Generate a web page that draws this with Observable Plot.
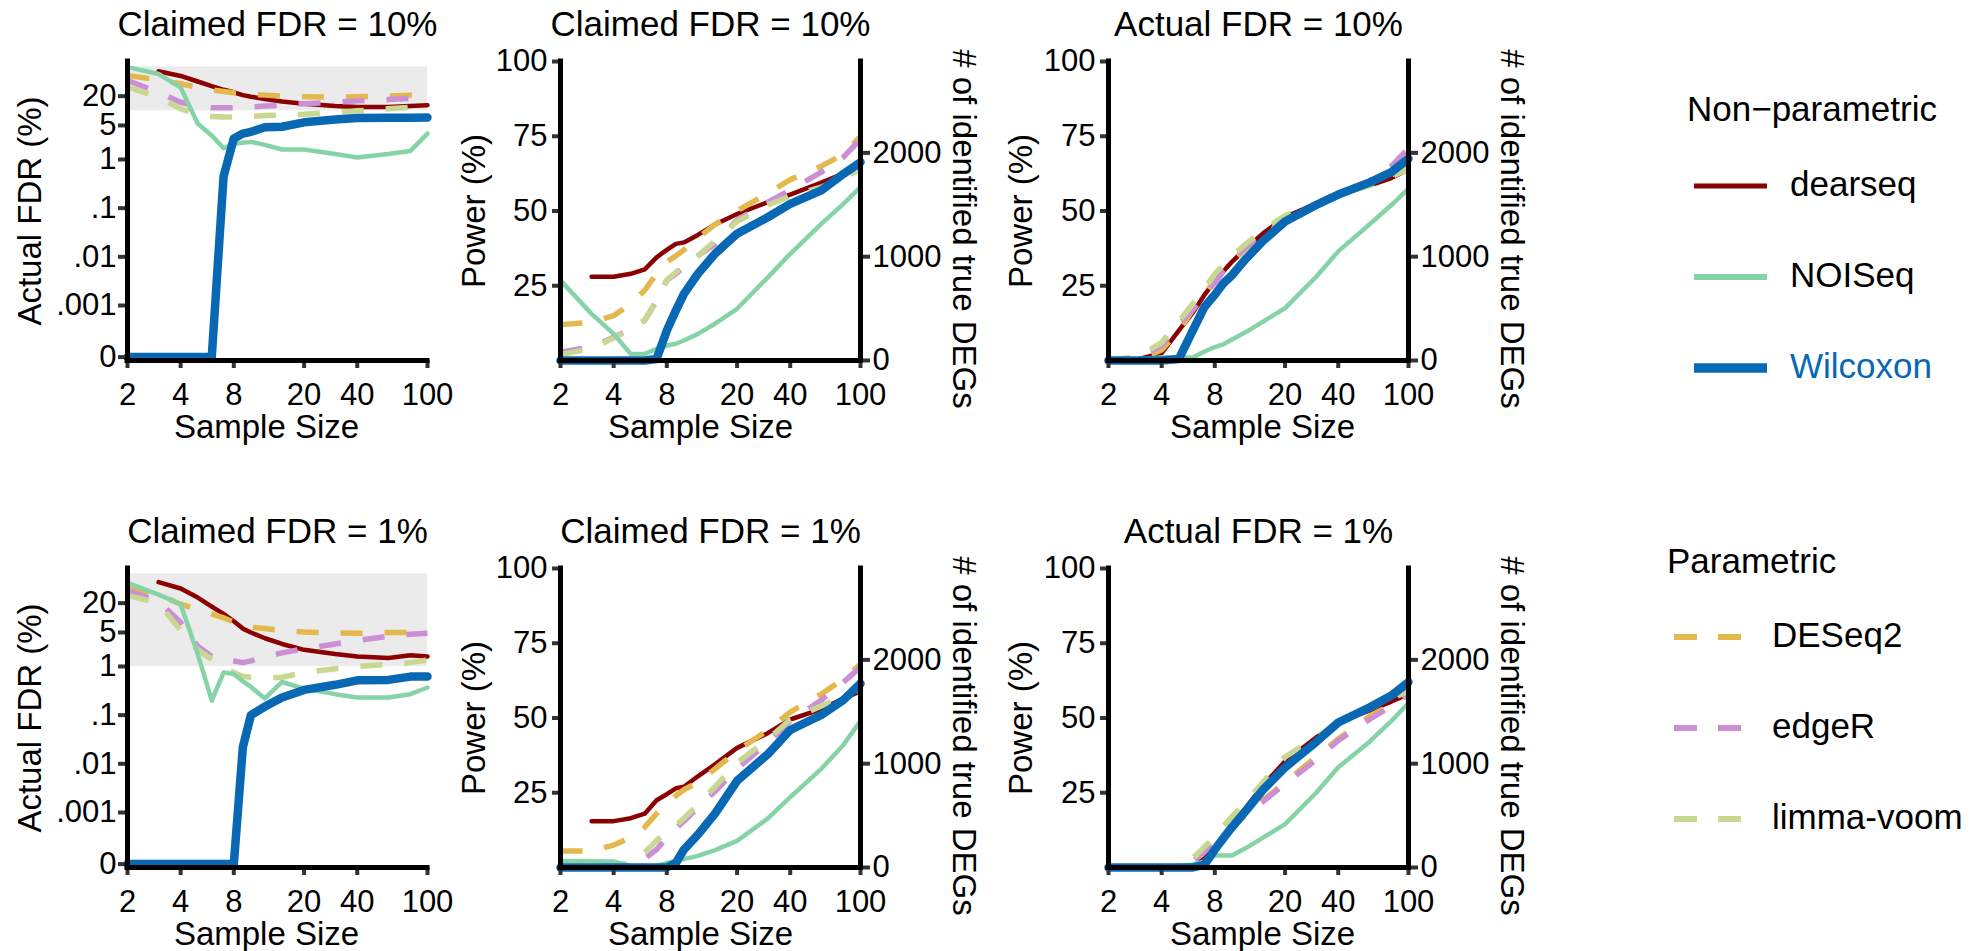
<!DOCTYPE html>
<html><head><meta charset="utf-8">
<script src="https://cdn.jsdelivr.net/npm/d3@7"></script>
<script src="https://cdn.jsdelivr.net/npm/@observablehq/plot@0.6"></script>
<style>
html,body{margin:0;padding:0;background:#fff;overflow:hidden;}
#root{position:relative;width:1988px;height:951px;overflow:hidden;font-family:"Liberation Sans",Arial,Helvetica,sans-serif;}
.panel{position:absolute;}
.panel svg{max-width:none;}
#legend{position:absolute;left:1640px;top:0;}
</style></head><body><div id="root"></div>
<script>
// ---------------- data ----------------
const sampleSizes = [2,3,4,5,6,7,8,9,10,12,15,20,30,40,60,80,100];
const methodNames = ["dearseq","NOISeq","Wilcoxon","DESeq2","edgeR","limma-voom"];
const methodColors = ["#8b0000","#86d3a8","#0868b4","#e3b94e","#cc8fd5","#c9d891"];
const nonParametric = ["dearseq","NOISeq","Wilcoxon"];
const parametric = ["DESeq2","edgeR","limma-voom"];
const xTicks = [2,4,8,20,40,100];
const fdrTickValues = [0,0.001,0.01,0.1,1,5,20];
const fdrTickLabels = ["0",".001",".01",".1","1","5","20"];
const powerTicks = [25,50,75,100];
const degTicks = [0,1000,2000];
const totalTrueDEGs = 2880;
const fdrBandUpper = 80;
const claimedFDRs = [10,1];
const panelTitles = ["Claimed FDR = 10%","Claimed FDR = 10%","Actual FDR = 10%",
                     "Claimed FDR = 1%","Claimed FDR = 1%","Actual FDR = 1%"];

// Actual FDR (%) at claimed FDR = 10%
const fdr10_dearseq  = [null,65,52,40,32,27,24,21,19.5,17.5,15.5,14,12.5,12,12,12.5,13];
const fdr10_NOISeq   = [79,57,30,5.4,3.1,1.7,2.1,2.2,2.3,2.0,1.6,1.6,1.3,1.1,1.3,1.5,3.4];
const fdr10_Wilcoxon = [0,0,0,0,0,0.45,2.7,3.4,3.7,4.6,4.7,5.8,6.6,7.1,7.2,7.2,7.3];
const fdr10_DESeq2   = [53,43,36,30,27,25,23.5,22.5,22,21,20,19.5,19,19.5,20,21,21];
const fdr10_edgeR    = [42,24,15,12.5,11.5,11.5,11.5,11.7,12,12.5,13,14,15,16,17,18,18.5];
const fdr10_limma    = [31,19,11,8.5,7.6,7.5,7.5,7.5,7.6,8,8.2,8.5,9.3,10,11,11.8,12];

// Actual FDR (%) at claimed FDR = 1%
const fdr1_dearseq  = [null,54,40,26,17,12,8.5,6,5,3.8,2.9,2.2,1.8,1.6,1.5,1.7,1.6];
const fdr1_NOISeq   = [52,30,19,1.8,0.2,0.75,0.7,0.5,0.38,0.22,0.48,0.35,0.27,0.23,0.23,0.27,0.37];
const fdr1_Wilcoxon = [0,0,0,0,0,0,0,0.022,0.1,0.15,0.23,0.33,0.42,0.52,0.53,0.62,0.62];
const fdr1_DESeq2   = [43,30,19,15,12,10,8.2,7,6.4,6,5.5,5.1,4.9,4.8,5,5,4.8];
const fdr1_edgeR    = [36,22,8,2.6,1.6,1.4,1.3,1.2,1.3,1.6,1.9,2.3,2.9,3.4,4.2,4.6,4.8];
const fdr1_limma    = [29,20,5.5,2.2,1.4,0.97,0.75,0.62,0.6,0.58,0.6,0.75,0.9,1.0,1.1,1.2,1.35];

// Power (%) at claimed FDR = 10%
const powC10_dearseq  = [null,28,28,29,30.5,34.5,37,39,39.5,42,45.5,49,53,55.5,59.5,62.5,65.5];
const powC10_NOISeq   = [26.8,15.6,8.9,2.2,2.2,3.9,5,5.6,6.7,8.9,12.3,17.3,27.9,35.7,45.7,52.4,58];
const powC10_Wilcoxon = [0,0,0,0,0,0.5,10,16.7,22.3,29,35.7,42.4,48,52.4,56.9,62.4,66.3];
const powC10_DESeq2   = [12,12.8,15,19,23.5,29,33,35,37,41,45.5,50,56,60.5,65,69,75];
const powC10_edgeR    = [2.8,4.5,7.8,10.6,13.4,20,26.8,29,31.2,35,39,47,53,57,63,68,74];
const powC10_limma    = [2,4,7.5,10.5,13.5,20,27,29.5,31.5,35,40,46.5,52,55,58,61,64];

// Power (%) at actual FDR = 10%
const powA10_dearseq  = [null,0.5,2.5,10,16,22,26.5,30,33,37.5,42.5,48,52.5,55.5,58.5,61,64];
const powA10_NOISeq   = [0.3,0.5,1,1,1,3,4.5,5.5,7,9.5,13,17.5,28,36.5,45.5,52,57.5];
const powA10_Wilcoxon = [0,0,0,0.5,10,18,22,26,28.5,34,40,46.5,52,55.5,59.5,63,67.5];
const powA10_DESeq2   = [0,0.5,3.5,10,17,22,27,30,33,37.5,42,46.5,52,55.5,59,62,65];
const powA10_edgeR    = [0,1,5,12,17,22,26,30,33,38,42.5,47.5,52.5,56,60,65,71];
const powA10_limma    = [0,1.5,6,13,19,24,29,32,35,39,43.5,48.5,52.5,55.5,58.5,61.5,64];

// Power (%) at claimed FDR = 1%
const powC1_dearseq  = [null,15.5,15.5,16.5,18,22.5,24.5,26.5,27,30.5,34.5,40,45,49.5,53,56.5,59];
const powC1_NOISeq   = [2.2,2.1,2,0.5,0.3,0.5,1.5,2.2,2.8,3.9,5.8,8.9,16.5,23.5,33,41,49];
const powC1_Wilcoxon = [0,0,0,0,0,0,0,1.5,6,11,18,29,38,46,51,56,61.5];
const powC1_DESeq2   = [5.5,5.5,7.5,10,13.5,18,21.5,24,26,28.5,33,39,46,52,58,63,68];
const powC1_edgeR    = [0.2,0.2,0.5,1,3,6,10,13,15.5,20,25.5,33,42,49,56,62,67];
const powC1_limma    = [0,0.2,0.5,1.5,5,9,12,14,16.5,21,27,35,43,49.5,54,57,60];

// Power (%) at actual FDR = 1%
const powA1_dearseq  = [null,0,0,0.2,0.5,3,6.5,10.5,14,20,27.5,35.5,43.5,48.5,52.5,55.5,58];
const powA1_NOISeq   = [0.2,0.3,0.3,0.5,1,2,4,4,4,6.5,10,14.5,25,33.5,42,49,55];
const powA1_Wilcoxon = [0,0,0,0,0,1,6,10,13.5,19,26,33.5,42,48.5,53.5,57.5,62];
const powA1_DESeq2   = [0,0,0,0.3,2,5.5,8,10.5,13,18,22.5,28.5,37,43,50.5,54.5,58];
const powA1_edgeR    = [0,0,0,0.3,2,5.5,8.5,11,13,18,22,28,36,42.5,49.5,54,58];
const powA1_limma    = [0,0,0,0.5,3,7,10,14,17,22,28.5,37,43.5,48.5,53,56.5,59];

// ---------------- layout / style ----------------
const FONT = '"Liberation Sans", Arial, Helvetica, sans-serif';
const drawOrder = ["dearseq","DESeq2","edgeR","limma-voom","NOISeq","Wilcoxon"];
const lineStyle = {
  "dearseq":   {strokeWidth: 4.5},
  "NOISeq":    {strokeWidth: 4.5},
  "Wilcoxon":  {strokeWidth: 8.5},
  "DESeq2":    {strokeWidth: 5.5, strokeDasharray: "22,22", strokeLinecap: "butt"},
  "edgeR":     {strokeWidth: 5.5, strokeDasharray: "22,22", strokeLinecap: "butt"},
  "limma-voom":{strokeWidth: 5.5, strokeDasharray: "22,22", strokeLinecap: "butt"}
};
const cols = [
  {left: 0,   width: 450, mL: 127, mR: 23,  yLabDx: -97, xLabDx: -11},
  {left: 440, width: 560, mL: 120, mR: 140, yLabDx: -86, xLabDx: -10},
  {left: 988, width: 572, mL: 120, mR: 152, yLabDx: -87, xLabDx: 4}
];
const rowTops = [0, 507];
const PH = 470, MT = 61, MB = 110;
const logLo = Math.pow(10, -4.13), logHi = Math.pow(10, 2.013);
const zeroFloor = Math.pow(10, -4.06);

function tidy(list) {
  return methodNames.flatMap((m, k) => sampleSizes.map((n, i) => ({method: m, n, value: list[k][i]})));
}
const panelSeries = [
  tidy([fdr10_dearseq, fdr10_NOISeq, fdr10_Wilcoxon, fdr10_DESeq2, fdr10_edgeR, fdr10_limma]),
  tidy([powC10_dearseq, powC10_NOISeq, powC10_Wilcoxon, powC10_DESeq2, powC10_edgeR, powC10_limma]),
  tidy([powA10_dearseq, powA10_NOISeq, powA10_Wilcoxon, powA10_DESeq2, powA10_edgeR, powA10_limma]),
  tidy([fdr1_dearseq, fdr1_NOISeq, fdr1_Wilcoxon, fdr1_DESeq2, fdr1_edgeR, fdr1_limma]),
  tidy([powC1_dearseq, powC1_NOISeq, powC1_Wilcoxon, powC1_DESeq2, powC1_edgeR, powC1_limma]),
  tidy([powA1_dearseq, powA1_NOISeq, powA1_Wilcoxon, powA1_DESeq2, powA1_edgeR, powA1_limma])
];

const root = document.getElementById("root");

function makePanel(idx) {
  const row = Math.floor(idx / 3), col = idx % 3;
  const c = cols[col];
  const isFdr = col === 0;
  const rows = panelSeries[idx];
  const yAcc = isFdr
    ? (d => d.value == null ? NaN : Math.max(d.value, zeroFloor))
    : (d => d.value == null ? NaN : d.value);
  const marks = [];
  if (isFdr) {
    marks.push(Plot.rect([{lo: claimedFDRs[row], hi: fdrBandUpper}], {
      x1: () => 2, x2: () => 100, y1: "lo", y2: "hi", fill: "#ebebeb"
    }));
  }
  for (const m of drawOrder) {
    marks.push(Plot.line(rows.filter(d => d.method === m), {
      x: "n", y: yAcc, stroke: "method", strokeLinejoin: "round", ...lineStyle[m]
    }));
  }
  const axisCommon = {fontSize: 31, stroke: "#333", strokeWidth: 4, label: null};
  // x ticks (log scale): tick marks from the axis, labels as text marks
  marks.push(Plot.axisX(xTicks, {...axisCommon, anchor: "bottom", tickSize: 8, tickPadding: 14, tickFormat: () => ""}));
  marks.push(Plot.text(xTicks, {x: d => d, text: d => String(d), frameAnchor: "bottom", lineAnchor: "top", dy: 22, fontSize: 31}));
  if (isFdr) {
    const tv = fdrTickValues.map(v => v === 0 ? zeroFloor : v);
    marks.push(Plot.axisY(tv, {...axisCommon, anchor: "left", tickSize: 9, tickPadding: 3, tickFormat: () => ""}));
    marks.push(Plot.text(tv, {y: d => d, text: (d, i) => fdrTickLabels[i], frameAnchor: "left", textAnchor: "end", lineAnchor: "middle", dx: -11, fontSize: 31}));
    marks.push(Plot.ruleY([logLo], {strokeWidth: 5, stroke: "black", strokeLinecap: "square"}));
    marks.push(Plot.text(["Actual FDR (%)"], {text: d => d, frameAnchor: "left", rotate: -90, dx: c.yLabDx, lineAnchor: "middle", textAnchor: "middle", fontSize: 33}));
  } else {
    marks.push(Plot.axisY(powerTicks, {...axisCommon, anchor: "left", tickSize: 8, tickPadding: 5, tickFormat: d => String(d)}));
    marks.push(Plot.axisY(degTicks.map(d => d / totalTrueDEGs * 100), {...axisCommon, anchor: "right", tickSize: 9, tickPadding: 3, tickFormat: d => String(Math.round(d * totalTrueDEGs / 100))}));
    marks.push(Plot.ruleY([0], {strokeWidth: 5, stroke: "black", strokeLinecap: "square"}));
    marks.push(Plot.ruleX([100], {strokeWidth: 5, stroke: "black", strokeLinecap: "square"}));
    marks.push(Plot.text(["Power (%)"], {text: d => d, frameAnchor: "left", rotate: -90, dx: c.yLabDx, lineAnchor: "middle", textAnchor: "middle", fontSize: 33}));
    marks.push(Plot.text(["# of identified true DEGs"], {text: d => d, frameAnchor: "right", rotate: 90, dx: 103, dy: 18, lineAnchor: "middle", textAnchor: "middle", fontSize: 33}));
  }
  marks.push(Plot.ruleX([2], {strokeWidth: 5, stroke: "black", strokeLinecap: "square"}));
  marks.push(Plot.text([panelTitles[idx]], {text: d => d, frameAnchor: "top", lineAnchor: "bottom", dy: -26, fontSize: 35}));
  marks.push(Plot.text(["Sample Size"], {text: d => d, frameAnchor: "bottom", lineAnchor: "bottom", dy: 77, dx: c.xLabDx, fontSize: 33}));

  const svg = Plot.plot({
    width: c.width, height: PH,
    marginLeft: c.mL, marginRight: c.mR, marginTop: MT, marginBottom: MB,
    x: {type: "log", domain: [2, 100]},
    y: isFdr ? {type: "log", domain: [logLo, logHi]} : {type: "linear", domain: [0, 100]},
    color: {domain: methodNames, range: methodColors},
    style: {fontFamily: FONT, fontSize: "31px", color: "black", background: "transparent", overflow: "visible"},
    marks
  });
  const div = document.createElement("div");
  div.className = "panel";
  div.style.left = c.left + "px";
  div.style.top = rowTops[row] + "px";
  div.appendChild(svg);
  root.appendChild(div);
}
for (let i = 0; i < 6; i++) makePanel(i);

// ---------------- legend ----------------
const ns = "http://www.w3.org/2000/svg";
const leg = document.createElementNS(ns, "svg");
leg.setAttribute("id", "legend");
leg.setAttribute("width", 348);
leg.setAttribute("height", 951);
leg.style.fontFamily = FONT;
function el(tag, attrs, text) {
  const e = document.createElementNS(ns, tag);
  for (const k in attrs) e.setAttribute(k, attrs[k]);
  if (text != null) e.textContent = text;
  leg.appendChild(e);
  return e;
}
const colorOf = m => methodColors[methodNames.indexOf(m)];
const legendWidth = {"dearseq": 5, "NOISeq": 6, "Wilcoxon": 9.5};
el("text", {x: 47, y: 121, "font-size": 35}, "Non\u2212parametric");
nonParametric.forEach((m, i) => {
  const y = 186 + i * 91;
  el("line", {x1: 54, x2: 127, y1: y, y2: y, stroke: colorOf(m), "stroke-width": legendWidth[m]});
  el("text", {x: 150, y: y + 10, "font-size": 35, fill: m === "Wilcoxon" ? colorOf(m) : "black"}, m);
});
el("text", {x: 27, y: 573, "font-size": 35}, "Parametric");
parametric.forEach((m, i) => {
  const y = 637 + i * 91;
  el("line", {x1: 34, x2: 101, y1: y, y2: y, stroke: colorOf(m), "stroke-width": 6, "stroke-dasharray": "23,21"});
  el("text", {x: 132, y: y + 10, "font-size": 35}, m);
});
root.appendChild(leg);
</script>
</body></html>
